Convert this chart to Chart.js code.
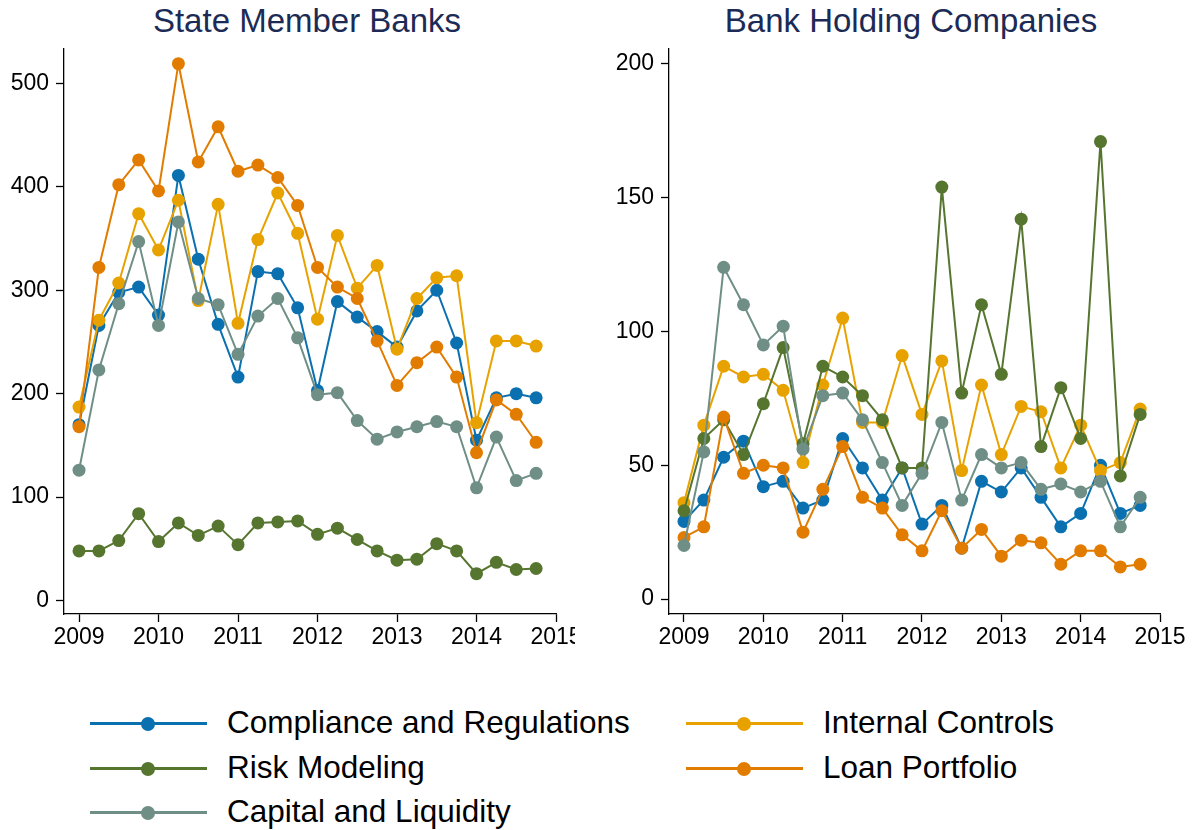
<!DOCTYPE html>
<html>
<head>
<meta charset="utf-8">
<script src="https://cdn.jsdelivr.net/npm/chart.js@4"></script>
<style>
  body { margin: 0; background: #fff; font-family: 'Liberation Sans', Arial, sans-serif; }
  #page { position: relative; width: 1197px; height: 830px; overflow: hidden; }
  .title { position: absolute; top: 2px; font-size: 33px; color: #1c2b55; white-space: nowrap; transform: translateX(-50%); }
  .cv { position: absolute; top: 0; }
  .leg { position: absolute; height: 30px; }
  .leg .ln { position: absolute; left: 0; top: 14px; height: 3px; }
  .leg .pt { position: absolute; top: 9px; width: 14px; height: 14px; border-radius: 50%; }
  .leg .tx { position: absolute; top: -4px; font-size: 31.5px; color: #000; white-space: nowrap; }
</style>
</head>
<body>
<div id="page">
  <div class="title" style="left:307px">State Member Banks</div>
  <div class="title" style="left:911px">Bank Holding Companies</div>
  <canvas id="smbChart" class="cv" style="left:0"></canvas>
  <canvas id="bhcChart" class="cv" style="left:590px"></canvas>
  <div id="legend"></div>
</div>
<script>
// quarterly observations, 2009Q1 - 2014Q4
const quarters = [2009, 2009.25, 2009.5, 2009.75, 2010, 2010.25, 2010.5, 2010.75,
                  2011, 2011.25, 2011.5, 2011.75, 2012, 2012.25, 2012.5, 2012.75,
                  2013, 2013.25, 2013.5, 2013.75, 2014, 2014.25, 2014.5, 2014.75];
const yearTicks = [2009, 2010, 2011, 2012, 2013, 2014, 2015];

// State Member Banks
const smbCompliance = [170, 266, 298, 303, 276, 411, 330, 267, 216, 318, 316, 283, 203, 289, 274, 260, 245, 280, 300, 249, 155, 196, 200, 196];
const smbInternal   = [187, 271, 307, 374, 339, 387, 290, 383, 268, 349, 394, 355, 272, 353, 302, 324, 243, 292, 312, 314, 172, 251, 251, 246];
const smbRisk       = [48, 48, 58, 84, 57, 75, 63, 72, 54, 75, 76, 77, 64, 70, 59, 48, 39, 40, 55, 48, 26, 37, 30, 31];
const smbLoan       = [168, 322, 402, 426, 396, 519, 424, 458, 415, 421, 409, 382, 322, 303, 292, 251, 208, 230, 245, 216, 143, 194, 180, 153];
const smbCapital    = [126, 223, 287, 347, 266, 366, 292, 286, 238, 275, 292, 254, 199, 201, 174, 156, 163, 168, 173, 168, 109, 158, 116, 123];
const smbTicks = [0, 100, 200, 300, 400, 500];

// Bank Holding Companies
const bhcCompliance = [29, 37, 53, 59, 42, 44, 34, 37, 60, 49, 37, 49, 28, 35, 19, 44, 40, 49, 38, 27, 32, 50, 32, 35];
const bhcInternal   = [36, 65, 87, 83, 84, 78, 51, 80, 105, 66, 66, 91, 69, 89, 48, 80, 54, 72, 70, 49, 65, 48, 51, 71];
const bhcRisk       = [33, 60, 67, 54, 73, 94, 58, 87, 83, 76, 67, 49, 49, 154, 77, 110, 84, 142, 57, 79, 60, 171, 46, 69];
const bhcLoan       = [23, 27, 68, 47, 50, 49, 25, 41, 57, 38, 34, 24, 18, 33, 19, 26, 16, 22, 21, 13, 18, 18, 12, 13];
const bhcCapital    = [20, 55, 124, 110, 95, 102, 56, 76, 77, 67, 51, 35, 47, 66, 37, 54, 49, 51, 41, 43, 40, 44, 27, 38];
const bhcTicks = [0, 50, 100, 150, 200];

const seriesNames = ['Compliance and Regulations', 'Internal Controls', 'Risk Modeling', 'Loan Portfolio', 'Capital and Liquidity'];
const seriesColors = ['#0b70b0', '#e8a200', '#567630', '#e27c00', '#6f8f86'];

const FONT = "'Liberation Sans', Arial, sans-serif";

function makeChart(id, width, values, yMin, yMax, yTicks, yAxisW, padRight) {
    const cv = document.getElementById(id);
    cv.width = width; cv.height = 680;
    cv.style.width = width + 'px'; cv.style.height = '680px';
    // stata draws first series first; chart.js puts dataset 0 on top -> reverse
    const datasets = values.map((vals, i) => ({
        label: seriesNames[i],
        data: quarters.map((q, j) => ({ x: q, y: vals[j] })),
        borderColor: seriesColors[i],
        backgroundColor: seriesColors[i],
        pointBackgroundColor: seriesColors[i],
        pointBorderColor: seriesColors[i],
        borderWidth: 2,
        pointRadius: 6.5,
        pointBorderWidth: 0,
        tension: 0
    })).reverse();
    const axisCommon = {
        border: { display: true, color: '#000', width: 1.3 },
        grid: { drawOnChartArea: false, drawTicks: true, tickLength: 8, color: '#000', tickWidth: 1.3 },
    };
    return new Chart(cv, {
        type: 'line',
        data: { datasets },
        options: {
            responsive: false,
            animation: false,
            layout: { padding: { top: 49, right: padRight, left: 0, bottom: 0 } },
            plugins: { legend: { display: false }, tooltip: { enabled: false } },
            scales: {
                x: {
                    type: 'linear', min: 2008.811, max: 2015,
                    ...axisCommon,
                    ticks: { color: '#000', font: { family: FONT, size: 23 }, padding: 2, maxRotation: 0,
                             callback: v => String(v) },
                    afterBuildTicks: s => { s.ticks = yearTicks.map(v => ({ value: v })); },
                    afterFit: s => { s.height = 66; s.paddingLeft = 0; s.paddingRight = 0; }
                },
                y: {
                    type: 'linear', min: yMin, max: yMax,
                    ...axisCommon,
                    ticks: { color: '#000', font: { family: FONT, size: 23 }, padding: 7,
                             callback: v => String(v) },
                    afterBuildTicks: s => { s.ticks = yTicks.map(v => ({ value: v })); },
                    afterFit: s => { s.width = yAxisW; s.paddingTop = 0; s.paddingBottom = 0; }
                }
            }
        }
    });
}

// left panel is cut at its right edge, so its last year label shows only in part
makeChart('smbChart', 575, [smbCompliance, smbInternal, smbRisk, smbLoan, smbCapital], -13, 533.2, smbTicks, 64, 19);
makeChart('bhcChart', 607, [bhcCompliance, bhcInternal, bhcRisk, bhcLoan, bhcCapital], -5.6, 205.6, bhcTicks, 79, 37);

// legend, filled row by row in two columns like the original
const legendPos = [
    { x: 90, y: 708 }, { x: 686, y: 708 },
    { x: 90, y: 753 }, { x: 686, y: 753 },
    { x: 90, y: 797 }
];
const legend = document.getElementById('legend');
seriesNames.forEach((name, i) => {
    const p = legendPos[i];
    const d = document.createElement('div');
    d.className = 'leg';
    d.style.left = p.x + 'px';
    d.style.top = p.y + 'px';
    d.innerHTML = `<div class="ln" style="width:117px;background:${seriesColors[i]}"></div>` +
        `<div class="pt" style="left:51px;background:${seriesColors[i]}"></div>` +
        `<div class="tx" style="left:137px">${name}</div>`;
    legend.appendChild(d);
});
</script>
</body>
</html>
